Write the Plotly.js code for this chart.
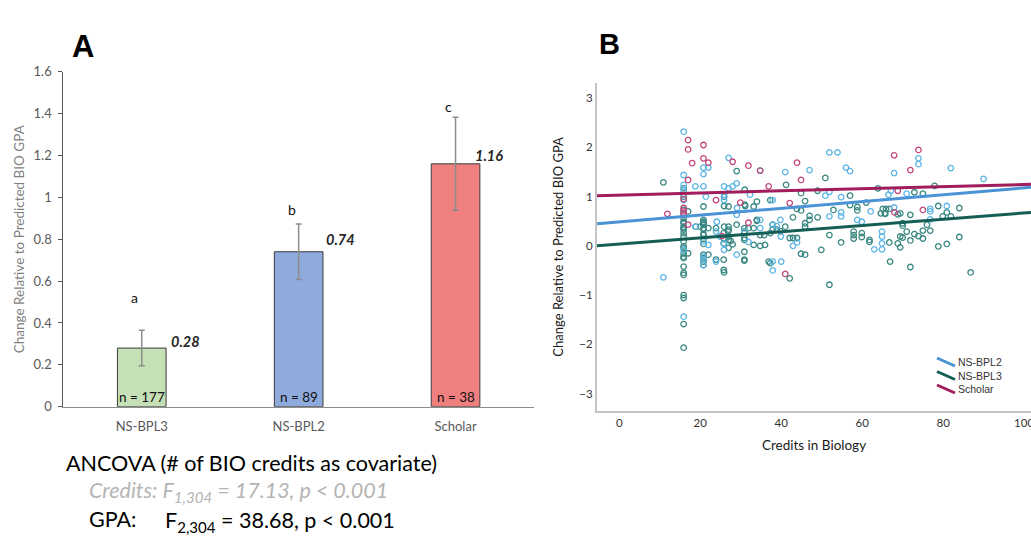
<!DOCTYPE html>
<html><head><meta charset="utf-8">
<script src="https://cdn.plot.ly/plotly-3.0.1.min.js"></script>
<style>html,body{margin:0;padding:0;background:#fff;}#chart{width:1031px;height:540px;}</style>
</head><body><div id="chart"></div>
<script>
// ---- Panel A data ----
const groups = ['NS-BPL3', 'NS-BPL2', 'Scholar'];
const meanChange = [0.28, 0.74, 1.16];
const errHalf = [0.085, 0.133, 0.222];
const groupN = [177, 89, 38];
const sigLetters = ['a', 'b', 'c'];
const sigLetterY = [0.52, 0.94, 1.435];
const valueLabelY = [0.31, 0.80, 1.20];

// ---- Panel B data (credits in biology vs change) ----
const bpl3X = [15.9,15.9,15.9,15.9,15.9,15.9,15.9,15.9,15.9,15.9,15.9,15.9,15.9,15.9,15.9,15.9,15.9,15.9,15.9,15.9,15.9,15.9,15.9,15.9,15.9,17.0,17.0,
  10.9,
  20.8,20.8,20.8,20.8,20.8,20.8,20.8,20.8,20.8,20.8,20.8,20.8,20.8,20.8,20.8,20.0,18.9,22.0,22.0,
  23.9,23.9,25.9,25.9,25.8,25.8,25.8,25.8,25.9,25.9,25.9,27.0,27.0,27.0,27.0,27.0,27.0,26.9,27.5,28.0,
  29.0,31.0,31.0,31.1,33.2,34.0,34.0,34.0,29.0,30.9,30.9,30.9,30.9,30.9,30.9,30.9,30.9,31.9,33.2,33.2,34.8,34.8,35.8,36.0,36.9,37.3,37.9,37.9,
  37.3,38.9,39.8,41.0,41.2,42.1,42.9,43.9,43.9,44.9,42.9,45.9,44.9,45.9,45.9,47.0,47.0,44.9,45.9,42.1,37.3,
  49.0,49.0,50.9,52.9,51.9,54.8,57.0,57.0,58.8,58.8,57.9,57.9,57.9,59.9,59.9,61.0,61.8,61.8,49.9,51.9,
  63.9,65.1,65.9,66.7,64.6,65.6,65.7,68.8,66.7,68.8,66.9,
  77.9,72.9,75.0,69.4,71.9,78.8,79.9,80.9,81.9,84.0,70.0,70.0,76.0,75.0,76.8,71.0,72.9,73.9,75.0,69.4,70.0,71.9,84.0,69.4,78.8,80.9,71.9,86.8];
const bpl3Y = [1.17,1.00,0.73,0.66,0.56,0.49,0.46,0.39,0.36,0.33,0.26,0.19,0.09,-0.01,-0.05,-0.15,-0.22,-0.25,-0.42,-0.55,-0.59,-1.00,-1.06,-1.59,-2.07,0.70,-0.15,
  1.29,
  0.80,0.53,0.49,0.46,0.43,0.36,0.33,0.24,0.22,0.14,0.04,-0.18,-0.25,-0.32,-0.39,0.39,0.39,0.36,-0.18,
  0.36,-0.28,1.00,0.81,0.26,0.05,-0.28,-0.49,-0.54,0.39,0.14,0.80,0.39,0.33,0.19,0.12,-0.04,0.29,0.10,0.03,
  1.52,1.14,0.84,0.81,0.80,0.90,0.51,0.53,0.43,0.36,0.27,0.29,0.16,0.12,-0.12,-0.28,-0.30,0.36,0.36,0.02,0.00,0.22,0.22,0.02,-0.32,0.93,0.43,0.34,
  0.26,0.33,0.30,0.39,1.24,0.16,0.16,0.16,0.75,0.72,0.58,0.91,1.07,0.46,0.39,0.61,0.53,-0.16,-0.18,-0.66,-0.35,
  0.58,1.12,1.38,0.73,0.22,0.07,1.02,0.83,0.79,0.72,0.29,0.22,0.15,0.26,0.18,0.88,0.12,0.08,-0.08,-0.79,
  1.17,0.75,0.75,0.75,0.66,0.66,0.65,0.64,0.07,0.05,-0.32,
  1.22,1.09,1.06,0.66,0.63,0.81,0.60,0.68,0.60,0.77,0.41,0.46,0.43,0.31,0.31,0.29,0.24,0.20,0.15,0.19,0.17,0.11,0.18,-0.03,-0.01,0.04,-0.43,-0.54];

const bpl2X = [15.9,15.9,15.9,15.9,15.9,15.9,15.9,10.9,
  20.8,22.0,20.8,18.8,20.8,27.0,21.4,18.8,20.8,22.0,20.8,20.8,20.8,
  25.9,25.9,25.9,27.0,28.0,29.0,24.1,29.0,31.9,29.0,24.9,23.9,25.9,25.9,23.9,30.9,32.3,34.8,29.1,34.8,34.8,
  37.9,41.0,47.0,51.9,53.9,56.0,57.0,67.9,51.9,50.9,54.8,66.5,67.1,51.9,54.8,54.8,62.1,58.8,59.9,67.9,39.8,38.9,37.9,39.9,42.9,43.9,64.9,64.9,64.9,64.9,63.0,40.0,37.9,37.9,
  73.9,73.9,81.9,90.0,71.0,76.8,76.8,80.9,76.8];
const bpl2Y = [2.32,1.44,1.24,1.10,0.93,-0.08,-1.44,-0.64,
  1.59,1.59,1.46,1.21,1.21,1.79,1.00,0.39,0.09,0.02,-0.22,-0.28,-0.39,
  1.21,1.04,0.93,1.17,1.21,1.27,0.49,0.63,0.08,-0.18,0.19,-0.32,0.05,-0.08,0.29,0.29,1.04,1.53,0.77,0.53,0.36,
  0.93,1.50,1.54,1.90,1.90,1.59,1.52,1.48,1.10,1.02,0.99,1.04,1.12,0.60,0.68,0.60,0.70,0.53,0.49,0.78,0.53,0.40,0.43,0.19,0.00,0.07,0.29,0.19,0.05,-0.07,-0.07,-0.32,-0.32,-0.50,
  1.78,1.66,1.58,1.36,1.06,0.75,0.70,0.81,0.54];

const scholarX = [17.0,17.0,20.8,18.0,20.8,22.0,28.0,31.9,34.8,17.0,15.9,15.9,15.9,15.9,17.0,11.9,23.9,29.9,31.9,36.9,25.4,
  43.9,44.9,42.1,41.0,67.9,68.8,68.0,73.9,71.9,75.0];
const scholarY = [2.15,1.96,2.05,1.68,1.78,1.69,1.71,1.63,1.53,1.34,0.95,0.77,0.70,0.63,0.43,0.65,0.93,0.88,0.47,1.21,0.20,
  1.69,1.34,0.87,-0.57,1.84,1.12,0.68,1.95,1.54,0.73];

// fitted regression lines: [intercept, slope]
const fitBpl2 = [0.488, 0.0069];
const fitBpl3 = [0.035, 0.00634];
const fitScholar = [1.032, 0.00215];
const creditsRange = [-5.5, 101.7];

const seriesNames = ['NS-BPL2', 'NS-BPL3', 'Scholar'];

// ---- styles ----
const barColors = ['#c5e0b4', '#8faadc', '#f08080'];
const lineColors = {'NS-BPL2': '#4a93d6', 'NS-BPL3': '#145e56', 'Scholar': '#a11d5b'};
const dotColors = {'NS-BPL2': '#5cb5e6', 'NS-BPL3': '#3a8882', 'Scholar': '#c2467c'};
const W = 1031, H = 540;
const px = x => x / W, py = y => 1 - y / H;

const fitLine = (f) => creditsRange.map(x => f[0] + f[1] * x);

const traces = [
  {type: 'bar', x: groups, y: meanChange, width: 0.31, xaxis: 'x', yaxis: 'y',
   marker: {color: barColors, line: {color: '#3a3a3a', width: 1}},
   error_y: {type: 'data', array: errHalf, visible: true, color: '#8c8c8c', thickness: 1.5, width: 3},
   showlegend: false, hoverinfo: 'skip'},
  {type: 'scatter', mode: 'markers', x: bpl3X, y: bpl3Y, xaxis: 'x2', yaxis: 'y2', name: 'NS-BPL3',
   marker: {symbol: 'circle-open', size: 5.5, color: dotColors['NS-BPL3'], line: {width: 1.3}}, showlegend: false},
  {type: 'scatter', mode: 'markers', x: bpl2X, y: bpl2Y, xaxis: 'x2', yaxis: 'y2', name: 'NS-BPL2',
   marker: {symbol: 'circle-open', size: 5.5, color: dotColors['NS-BPL2'], line: {width: 1.3}}, showlegend: false},
  {type: 'scatter', mode: 'markers', x: scholarX, y: scholarY, xaxis: 'x2', yaxis: 'y2', name: 'Scholar',
   marker: {symbol: 'circle-open', size: 5.5, color: dotColors['Scholar'], line: {width: 1.3}}, showlegend: false},
  {type: 'scatter', mode: 'lines', x: creditsRange, y: fitLine(fitBpl3), xaxis: 'x2', yaxis: 'y2',
   line: {color: lineColors['NS-BPL3'], width: 3}, showlegend: false},
  {type: 'scatter', mode: 'lines', x: creditsRange, y: fitLine(fitBpl2), xaxis: 'x2', yaxis: 'y2',
   line: {color: lineColors['NS-BPL2'], width: 3}, showlegend: false},
  {type: 'scatter', mode: 'lines', x: creditsRange, y: fitLine(fitScholar), xaxis: 'x2', yaxis: 'y2',
   line: {color: lineColors['Scholar'], width: 3}, showlegend: false}
];

const annotations = [];
const valShift = [27, 25, 17];
groups.forEach((g, i) => {
  annotations.push({xref: 'x', yref: 'y', x: g, y: 0, text: 'n = ' + groupN[i], showarrow: false,
    yanchor: 'bottom', yshift: 0, font: {family: 'Lato', size: 13.5, color: '#111'}});
  annotations.push({xref: 'x', yref: 'y', x: g, y: valueLabelY[i], text: '<b><i>' + meanChange[i].toFixed(2) + '</i></b>',
    showarrow: false, xanchor: 'left', yanchor: 'middle', xshift: valShift[i], font: {family: 'Lato', size: 14.5, color: '#262626'}});
  annotations.push({xref: 'x', yref: 'y', x: g, y: sigLetterY[i], text: sigLetters[i], showarrow: false,
    xshift: -7, font: {family: 'Lato', size: 14, color: '#111'}});
});
// panel letters
annotations.push({xref: 'paper', yref: 'paper', x: px(70), y: py(27), text: '<b>A</b>', showarrow: false,
  font: {family: 'Liberation Sans', size: 31, color: '#000'}});
annotations.push({xref: 'paper', yref: 'paper', x: px(609), y: py(26), text: '<b>B</b>', showarrow: false,
  font: {family: 'Liberation Sans', size: 29, color: '#000'}});
// ANCOVA text
annotations.push({xref: 'paper', yref: 'paper', x: px(64), y: py(463), xanchor: 'left', yanchor: 'middle',
  text: 'ANCOVA (# of BIO credits as covariate)', showarrow: false, font: {family: 'Lato', size: 21.5, color: '#000'}});
annotations.push({xref: 'paper', yref: 'paper', x: px(87), y: py(491), xanchor: 'left', yanchor: 'middle',
  text: '<i>Credits: F<sub>1,304</sub> = 17.13, p &lt; 0.001</i>', showarrow: false, font: {family: 'Lato', size: 21.5, color: '#b4b4b4'}});
annotations.push({xref: 'paper', yref: 'paper', x: px(87), y: py(519), xanchor: 'left', yanchor: 'middle',
  text: 'GPA:', showarrow: false, font: {family: 'Lato', size: 21.5, color: '#000'}});
annotations.push({xref: 'paper', yref: 'paper', x: px(163), y: py(521), xanchor: 'left', yanchor: 'middle',
  text: 'F<sub>2,304</sub> = 38.68, p &lt; 0.001', showarrow: false, font: {family: 'Lato', size: 21.5, color: '#000'}});

// legend for panel B
const shapes = [];
seriesNames.forEach((s, i) => {
  const y0 = 358 + i * 13.5;
  shapes.push({type: 'line', xref: 'paper', yref: 'paper', x0: px(937), y0: py(y0), x1: px(955), y1: py(y0 + 8),
    line: {color: lineColors[s], width: 3}});
  annotations.push({xref: 'paper', yref: 'paper', x: px(956), y: py(y0 + 4), xanchor: 'left', yanchor: 'middle',
    text: s, showarrow: false, font: {family: 'Liberation Sans', size: 10.5, color: '#333'}});
});

const layout = {
  width: W, height: H, margin: {l: 0, r: 0, t: 0, b: 0}, paper_bgcolor: '#fff', plot_bgcolor: 'rgba(0,0,0,0)',
  showlegend: false, bargap: 0.69,
  xaxis: {domain: [px(63.3), px(534)], type: 'category', range: [-0.5, 2.5], showline: true, linecolor: '#8c8c8c', linewidth: 1,
    ticks: '', showgrid: false, zeroline: false, ticklabelstandoff: 8,
    tickfont: {family: 'Lato', size: 13, color: '#595959'}, anchor: 'y', fixedrange: true},
  yaxis: {domain: [py(406.7), py(71.7)], range: [0, 1.6], dtick: 0.2, tick0: 0, showline: true, linecolor: '#595959', linewidth: 1,
    ticks: 'outside', ticklen: 4, tickcolor: '#595959', showgrid: false, zeroline: false, ticklabelstandoff: 4,
    tickfont: {family: 'Lato', size: 13, color: '#595959'}, anchor: 'x',
    title: {text: 'Change Relative to Predicted BIO GPA', standoff: 5, font: {family: 'Lato', size: 13.5, color: '#7f7f7f'}}},
  xaxis2: {domain: [px(597), 1], range: creditsRange, dtick: 20, tick0: 0, showline: true, linecolor: '#c4c4c4', linewidth: 2,
    ticks: '', showgrid: false, zeroline: false, anchor: 'y2', ticklabeloverflow: 'allow',
    tickfont: {family: 'Lato', size: 11.5, color: '#333'},
    title: {text: 'Credits in Biology', standoff: 13, font: {family: 'Lato', size: 13.5, color: '#1a1a1a'}}},
  yaxis2: {domain: [py(410.7), py(83)], range: [-3.35, 3.31], dtick: 1, tick0: 0, showline: true, linecolor: '#c4c4c4', linewidth: 2,
    ticks: '', showgrid: false, zeroline: false, anchor: 'x2',
    tickfont: {family: 'Lato', size: 11.5, color: '#333'},
    title: {text: 'Change Relative to Predicted BIO GPA', standoff: 13, font: {family: 'Lato', size: 13, color: '#1a1a1a'}}},
  annotations: annotations, shapes: shapes
};

Plotly.newPlot('chart', traces, layout, {displayModeBar: false, staticPlot: true});
</script></body></html>
